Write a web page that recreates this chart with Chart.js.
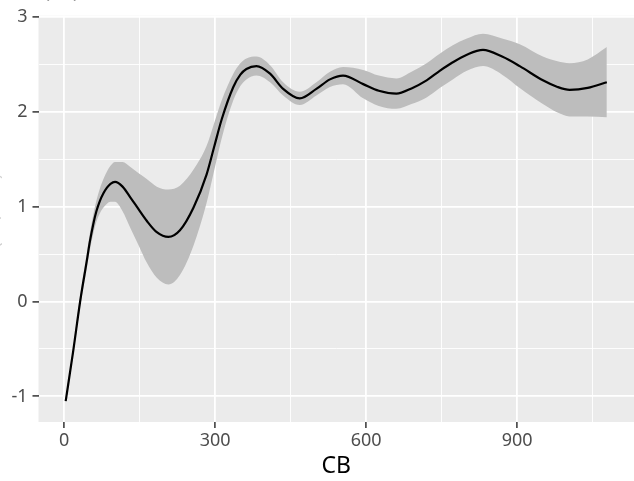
<!DOCTYPE html>
<html>
<head>
<meta charset="utf-8">
<script src="https://cdn.jsdelivr.net/npm/chart.js@4/dist/chart.umd.min.js"></script>
<style>
  html, body { margin: 0; padding: 0; background: #ffffff; }
  #wrap { width: 634px; height: 481px; }
</style>
</head>
<body>
<div id="wrap"><canvas id="c" width="634" height="481"></canvas></div>
<script>
// ---- data ----
const cbValues = [3, 18, 32, 45, 51, 58, 64, 71, 78, 85, 92, 101, 116, 131, 148, 164, 184, 207, 230, 257,
                  283, 298, 313, 336, 350, 362, 382, 409, 435, 468, 501, 528, 554, 594, 625, 660, 690, 720, 746, 772,
                  800, 832, 870, 905, 951, 980, 1004, 1040, 1078];
const fitValues = [-1.05, -0.52, 0.01, 0.43, 0.63, 0.82, 0.95, 1.06, 1.14, 1.20, 1.24, 1.26, 1.21, 1.10, 0.97, 0.85, 0.73, 0.68, 0.75, 0.99,
                   1.34, 1.63, 1.92, 2.26, 2.39, 2.45, 2.48, 2.40, 2.24, 2.14, 2.24, 2.34, 2.38, 2.29, 2.22, 2.19, 2.245, 2.33, 2.43, 2.52,
                   2.60, 2.65, 2.58, 2.48, 2.33, 2.26, 2.23, 2.25, 2.31];
const upperValues = [-1.02, -0.48, 0.07, 0.51, 0.72, 0.92, 1.06, 1.19, 1.29, 1.37, 1.43, 1.47, 1.47, 1.42, 1.35, 1.29, 1.21, 1.18, 1.22, 1.39,
                     1.64, 1.88, 2.12, 2.40, 2.51, 2.56, 2.58, 2.49, 2.31, 2.21, 2.31, 2.42, 2.47, 2.44, 2.38, 2.35, 2.42, 2.51, 2.61, 2.70,
                     2.77, 2.82, 2.77, 2.71, 2.58, 2.53, 2.51, 2.55, 2.68];
const lowerValues = [-1.08, -0.56, -0.05, 0.35, 0.54, 0.72, 0.84, 0.93, 0.99, 1.03, 1.05, 1.05, 0.95, 0.78, 0.59, 0.41, 0.25, 0.18, 0.28, 0.59,
                     1.04, 1.38, 1.72, 2.12, 2.27, 2.34, 2.38, 2.31, 2.17, 2.07, 2.17, 2.26, 2.29, 2.14, 2.06, 2.03, 2.08, 2.15, 2.25, 2.34,
                     2.43, 2.48, 2.39, 2.25, 2.08, 1.99, 1.95, 1.95, 1.94];
const xTickValues = [0, 150, 300, 450, 600, 750, 900, 1050];
const xTickLabels = ['0', '', '300', '', '600', '', '900', ''];
const yTickValues = [-1, -0.5, 0, 0.5, 1, 1.5, 2, 2.5, 3];
const yTickLabels = ['-1', '', '0', '', '1', '', '2', '', '3'];
const xTitle = 'CB';
const yTitle = 's(CB,8.71)';
const topText = 's(CB)';

const FONT = "'Noto Sans', 'Open Sans', sans-serif";
const pts = arr => cbValues.map((x, i) => ({ x: x, y: arr[i] }));
const isMajorX = v => v % 300 === 0;
const isMajorY = v => Number.isInteger(v);

const panelBg = {
  id: 'panelBg',
  beforeDraw(chart) {
    const a = chart.chartArea, ctx = chart.ctx;
    ctx.save();
    ctx.fillStyle = '#ebebeb';
    ctx.fillRect(a.left, a.top, a.right - a.left, a.bottom - a.top);
    ctx.restore();
  },
  afterDraw(chart) {
    const ctx = chart.ctx;
    ctx.save();
    ctx.fillStyle = '#9a9a9a';
    ctx.font = "18px " + FONT;
    ctx.textAlign = 'left';
    ctx.textBaseline = 'alphabetic';
    ctx.fillText(topText, 36, -2);
    ctx.translate(-1, 215);
    ctx.rotate(-Math.PI / 2);
    ctx.textAlign = 'center';
    ctx.fillStyle = '#d0d0d0';
    ctx.fillText(yTitle, 0, 0);
    ctx.restore();
  }
};

const common = { pointRadius: 0, cubicInterpolationMode: 'monotone' };

new Chart(document.getElementById('c'), {
  type: 'line',
  data: {
    datasets: [
      Object.assign({ label: 'fit', data: pts(fitValues), borderColor: '#000000', borderWidth: 2.2, fill: false, order: 0 }, common),
      Object.assign({ label: 'upper', data: pts(upperValues), borderWidth: 0, borderColor: 'rgba(0,0,0,0)',
        backgroundColor: '#bdbdbd', fill: '+1', order: 1 }, common),
      Object.assign({ label: 'lower', data: pts(lowerValues), borderWidth: 0, borderColor: 'rgba(0,0,0,0)', fill: false, order: 2 }, common)
    ]
  },
  options: {
    responsive: false,
    animation: false,
    layout: { padding: { top: 15, right: 0, left: 0, bottom: 0 } },
    plugins: { legend: { display: false }, tooltip: { enabled: false } },
    scales: {
      x: {
        type: 'linear', min: -51, max: 1132,
        afterBuildTicks: s => { s.ticks = xTickValues.map(v => ({ value: v })); },
        afterFit: s => { s.height = 59; },
        border: { display: false },
        grid: {
          color: '#ffffff',
          lineWidth: c => (c.tick && isMajorX(c.tick.value)) ? 1.8 : 0.9,
          drawTicks: true, tickLength: 6, tickWidth: 1.5,
          tickColor: c => (c.tick && isMajorX(c.tick.value)) ? '#333333' : 'rgba(0,0,0,0)'
        },
        ticks: {
          autoSkip: false, maxRotation: 0, padding: 2, color: '#4d4d4d',
          font: { family: FONT, size: 18 },
          callback: (v, i) => xTickLabels[xTickValues.indexOf(v)]
        },
        title: { display: true, text: xTitle, color: '#000000', font: { family: FONT, size: 23 }, padding: { top: 0, bottom: 1 } }
      },
      y: {
        type: 'linear', min: -1.27, max: 3.01,
        afterBuildTicks: s => { s.ticks = yTickValues.map(v => ({ value: v })); },
        afterFit: s => { s.width = 38.5; },
        border: { display: false },
        grid: {
          color: '#ffffff',
          lineWidth: c => (c.tick && isMajorY(c.tick.value)) ? 1.8 : 0.9,
          drawTicks: true, tickLength: 6, tickWidth: 1.5,
          tickColor: c => (c.tick && isMajorY(c.tick.value)) ? '#333333' : 'rgba(0,0,0,0)'
        },
        ticks: {
          autoSkip: false, padding: 5, color: '#4d4d4d',
          font: { family: FONT, size: 18 },
          callback: (v, i) => yTickLabels[yTickValues.indexOf(v)]
        }
      }
    }
  },
  plugins: [panelBg]
});
</script>
</body>
</html>
